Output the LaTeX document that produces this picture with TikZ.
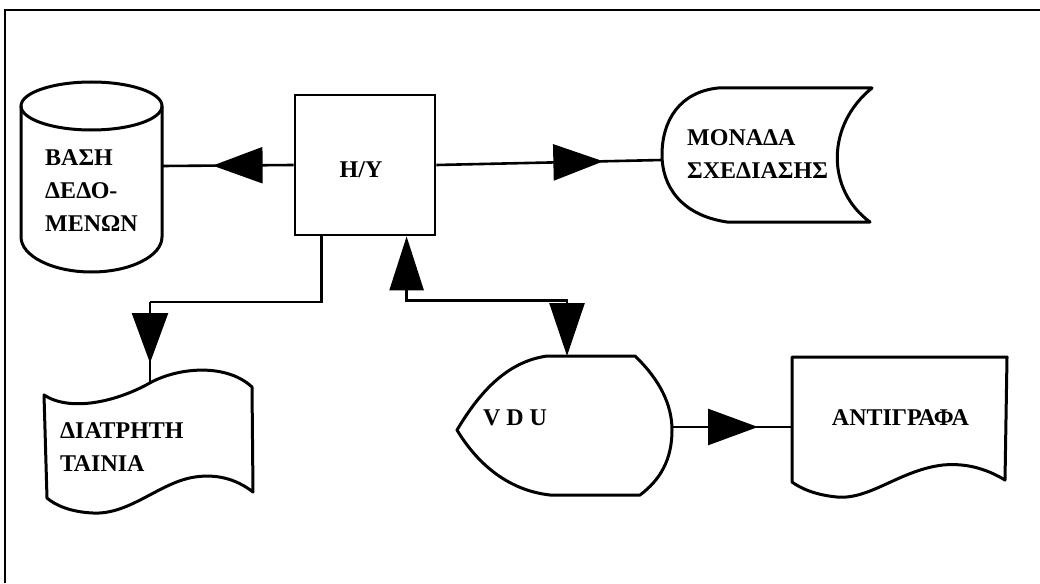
\documentclass[tikz,border=0pt]{standalone}
\usepackage{fontspec}
\setmainfont{Liberation Serif}
\usetikzlibrary{arrows.meta,decorations.markings,calc}
\begin{document}
\begin{tikzpicture}[x=1pt,y=-1pt,
  outline/.style={line width=3pt, line join=round},
  conn/.style={line width=2.6pt},
  tipat/.style={postaction={decorate},decoration={markings,mark=at position #1 with {\arrow{Triangle[length=50pt,width=36pt]}}}},
  lbl/.style={font=\bfseries\fontsize{24}{33}\selectfont, inner sep=0pt, align=left}
]
\useasboundingbox (0,0) rectangle (1040,583);
\draw[line width=2.4pt] (5,583) -- (5,10) -- (1040,10);

% database cylinder
\draw[outline] (91.5,106) ellipse [x radius=70.5, y radius=24];
\draw[outline] (21,106) -- (21,237) .. controls (21,256) and (52.6,272) .. (91.5,272) .. controls (130.4,272) and (162,256) .. (162,237) -- (162,106);
\coordinate (dbE) at (162,166);
\node[lbl, anchor=west] (db) at (45,191) {ΒΑΣΗ\\ΔΕΔΟ-\\ΜΕΝΩΝ};

% computer
\node[draw, line width=2.8pt, minimum width=140pt, minimum height=140pt, inner sep=0pt,
  label={[lbl, xshift=-4pt, yshift=-4.5pt]center:Η/Υ}] (hy) at (365,165) {};

% plotter
\draw[outline] (718,88) -- (872,88) .. controls (826,125) and (826,190) .. (870,222) -- (727,222) .. controls (680,215) and (662,185) .. (662,155) .. controls (662,120) and (680,92) .. (718,88) -- cycle;
\coordinate (monW) at (662,160);
\node[lbl, anchor=west] (mon) at (687,154.5) {ΜΟΝΑΔΑ\\ΣΧΕΔΙΑΣΗΣ};

% punched tape
\draw[outline] (44,395) .. controls (70,412) and (115,402) .. (148,384) .. controls (175,368) and (225,362) .. (252,387) -- (253,492) .. controls (235,478) and (215,474) .. (195,477) .. controls (160,482) and (130,515) .. (93,513) .. controls (70,512) and (55,505) .. (47,498) -- cycle;
\coordinate (tapeN) at (150,384);
\node[lbl, anchor=west] (tape) at (60,447) {ΔΙΑΤΡΗΤΗ\\ΤΑΙΝΙΑ};

% display
\draw[outline] (547,356) -- (635,356) .. controls (660,380) and (672,405) .. (672,430) .. controls (672,460) and (660,480) .. (640,495) -- (550,495) .. controls (505,490) and (475,460) .. (457,430) .. controls (478,395) and (505,362) .. (547,356) -- cycle;
\coordinate (vduN) at (567,356);
\coordinate (vduE) at (672,427);
\node[lbl] (vdu) at (515,418) {V D U};

% document
\draw[outline] (792,482) -- (792,357) -- (1007,357) -- (1005,480) .. controls (985,468) and (965,463) .. (943,465) .. controls (900,470) and (870,500) .. (837,497) .. controls (815,495) and (800,488) .. (792,482) -- cycle;
\coordinate (antW) at (792,427);
\node[lbl] (ant) at (900.5,418) {ΑΝΤΙΓΡΑΦΑ};

% connectors
\draw[conn, tipat=81pt] (hy.west) -- (dbE);
\draw[conn, tipat=167pt] (hy.east) -- (monW);
\coordinate (tapeJ) at (150,302);
\draw[conn] ($(hy.south west)+(28,0)$) |- (tapeJ);
\draw[conn, tipat=61pt] (tapeJ) -- (tapeN);
\draw[conn, {Triangle[length=54pt,width=34pt]}-{Triangle[length=53pt,width=35pt]}] ($(hy.south west)+(113,0)$) -- ++(0,64) -| (vduN);
\draw[conn, tipat=86pt] (vduE) -- (antW);
\end{tikzpicture}
\end{document}
